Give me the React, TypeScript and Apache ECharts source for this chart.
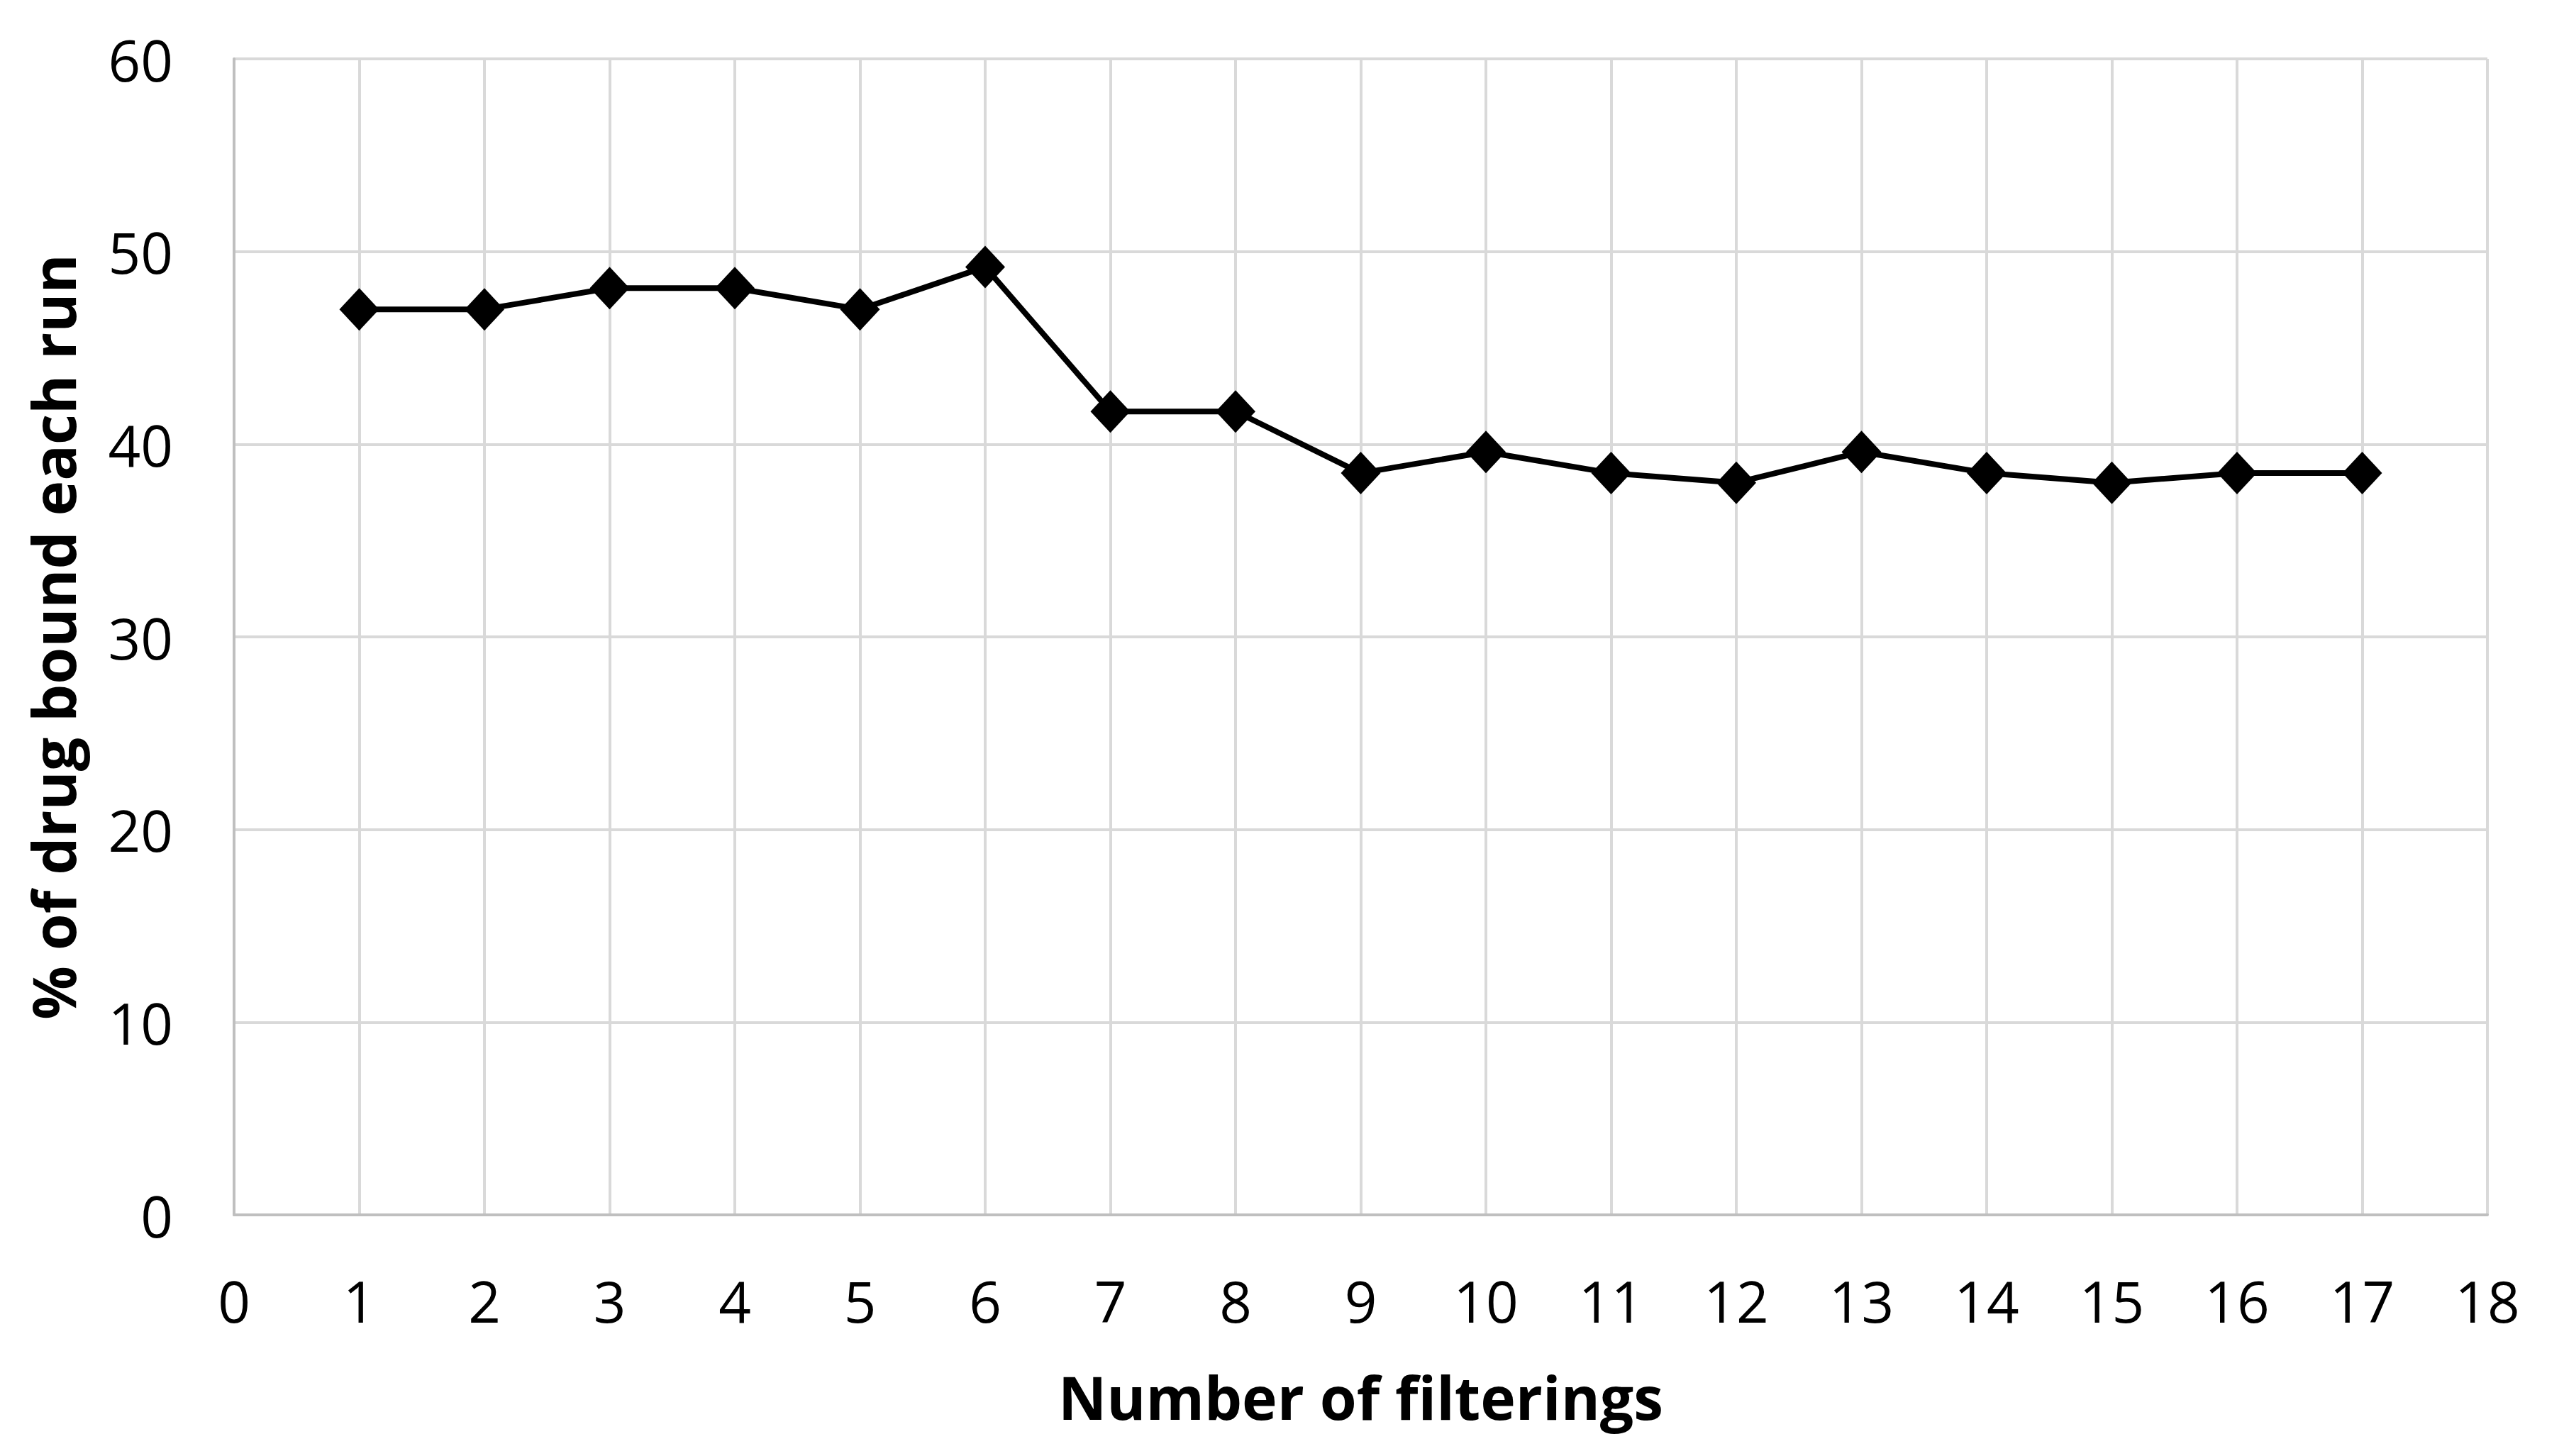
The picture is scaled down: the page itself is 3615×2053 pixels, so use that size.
import React, { useEffect, useRef } from "react";
import * as echarts from "echarts";

const filterings: number[] = [1, 2, 3, 4, 5, 6, 7, 8, 9, 10, 11, 12, 13, 14, 15, 16, 17];
const percentBound: number[] = [47.0, 47.0, 48.1, 48.1, 47.0, 49.2, 41.7, 41.7, 38.5, 39.6, 38.5, 38.0, 39.6, 38.5, 38.0, 38.5, 38.5];
const xAxisName = "Number of filterings";
const yAxisName = "% of drug bound each run";

export default function App() {
  const ref = useRef<HTMLDivElement>(null);
  useEffect(() => {
    if (!ref.current) return;
    const chart = echarts.init(ref.current, undefined, { renderer: "svg" });
    const font = "'Open Sans', 'Noto Sans', sans-serif";
    chart.setOption({
      animation: false,
      backgroundColor: "#ffffff",
      grid: { left: 330, right: 108, top: 83, bottom: 340, containLabel: false },
      xAxis: {
        type: "value",
        min: 0,
        max: 18,
        interval: 1,
        name: xAxisName,
        nameLocation: "middle",
        nameGap: 214,
        nameTextStyle: { fontFamily: font, fontWeight: "bold", fontSize: 84, color: "#000" },
        axisLine: { show: true, lineStyle: { color: "#bfbfbf", width: 4 } },
        axisTick: { show: false },
        axisLabel: { fontFamily: font, fontSize: 80, color: "#000", margin: 80 },
        splitLine: { show: true, lineStyle: { color: "#d9d9d9", width: 4 } },
      },
      yAxis: {
        type: "value",
        min: 0,
        max: 60,
        interval: 10,
        name: yAxisName,
        nameLocation: "middle",
        nameGap: 214,
        nameRotate: 90,
        nameTextStyle: { fontFamily: font, fontWeight: "bold", fontSize: 84, color: "#000" },
        axisLine: { show: true, lineStyle: { color: "#bfbfbf", width: 4 } },
        axisTick: { show: false },
        axisLabel: { fontFamily: font, fontSize: 80, color: "#000", margin: 86 },
        splitLine: { show: true, lineStyle: { color: "#d9d9d9", width: 4 } },
      },
      series: [
        {
          type: "line",
          data: filterings.map((x, i) => [x, percentBound[i]]),
          symbol: "diamond",
          symbolSize: [56, 60],
          lineStyle: { color: "#000", width: 8 },
          itemStyle: { color: "#000" },
        },
      ],
    });
    return () => chart.dispose();
  }, []);
  return (
    <div
      ref={ref}
      style={{ position: "absolute", left: 0, top: 0, width: 3615, height: 2053, background: "#fff" }}
    />
  );
}
